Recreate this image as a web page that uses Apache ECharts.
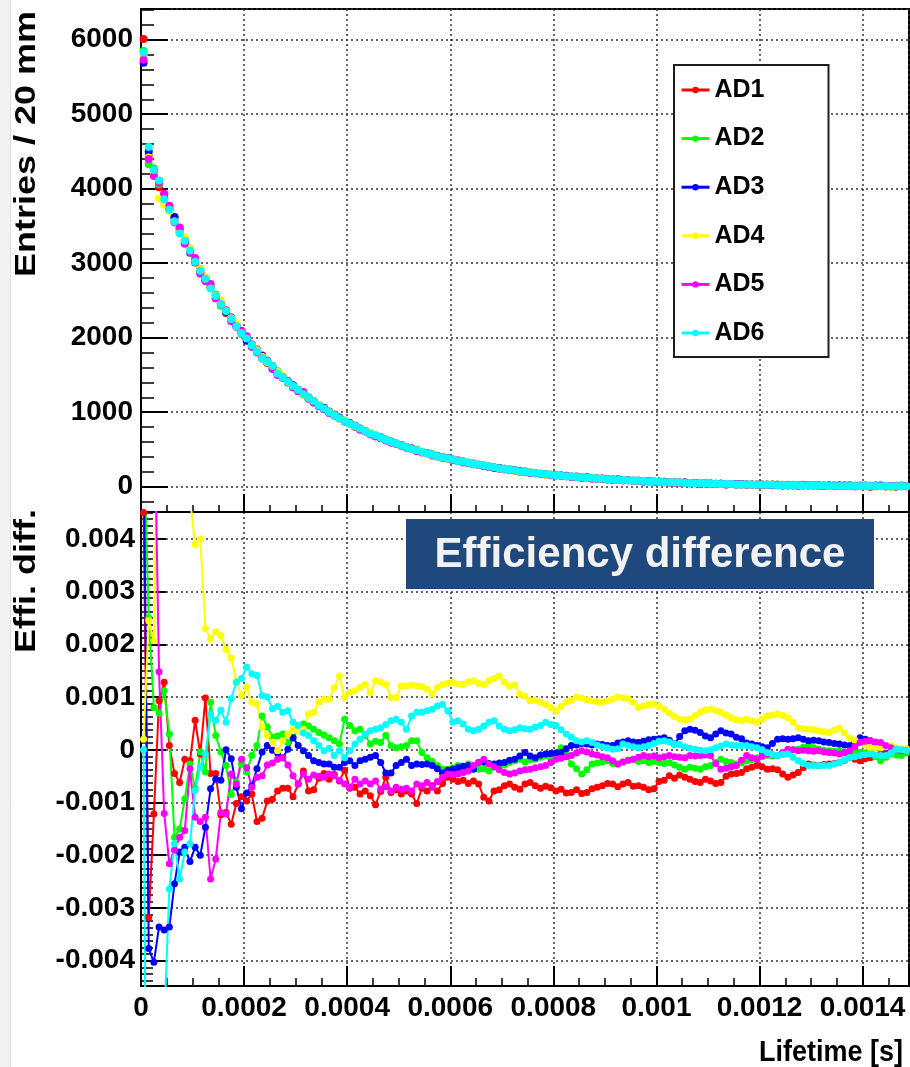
<!DOCTYPE html>
<html>
<head>
<meta charset="utf-8">
<title>AD lifetime spectra and efficiency difference</title>
<script src="https://cdn.jsdelivr.net/npm/echarts@6/dist/echarts.min.js"></script>
<style>
  html, body { margin: 0; padding: 0; background: #ffffff; }
  #chart { width: 910px; height: 1067px; }
</style>
</head>
<body>
<div id="chart"></div>
<script>
// ---- Detectors ----
const detectorNames  = ['AD1', 'AD2', 'AD3', 'AD4', 'AD5', 'AD6'];
const detectorColors = ['#ff0000', '#00ff00', '#0000ff', '#ffff00', '#ff00ff', '#00ffff'];

// ---- Lifetime binning (s) ----
const binWidth = 1e-5;
const nBins = 150;
const lifetimeBinCenters = Array.from({ length: nBins }, (_, i) => (i + 0.5) * binWidth);

// ---- Axis ticks ----
const lifetimeTicks = [0, 0.0002, 0.0004, 0.0006, 0.0008, 0.001, 0.0012, 0.0014];
const entriesTicks  = [0, 1000, 2000, 3000, 4000, 5000, 6000];
const effDiffTicks  = [-0.004, -0.003, -0.002, -0.001, 0, 0.001, 0.002, 0.003, 0.004];

// ---- Upper panel: entries per bin ----
const entriesAD1 = [
  6010, 4440, 4230, 4020, 3930, 3720, 3610, 3460, 3270, 3180,
  3010, 2880, 2800, 2690, 2530, 2460, 2330, 2250, 2150, 2070,
  1975, 1890, 1840, 1760, 1660, 1600, 1530, 1480, 1400, 1345,
  1300, 1240, 1180, 1150, 1090, 1040, 1010, 955, 920, 880,
  850, 805, 775, 750, 710, 680, 665, 625, 600, 575,
  560, 525, 515, 480, 470, 450, 425, 415, 390, 380,
  360, 350, 330, 315, 310, 290, 285, 265, 255, 250,
  235, 230, 215, 210, 195, 190, 185, 170, 165, 160,
  150, 150, 140, 130, 135, 120, 125, 110, 105, 110,
  95, 100, 90, 85, 90, 80, 75, 70, 75, 65,
  70, 60, 55, 60, 50, 55, 45, 50, 40, 45,
  40, 35, 40, 30, 35, 25, 35, 30, 25, 30,
  20, 25, 30, 20, 15, 25, 20, 10, 25, 15,
  20, 10, 15, 20, 5, 15, 10, 20, 5, 10,
  15, 0, 10, 15, 5, 10, 0, 15, 5, 10
];
const entriesAD2 = [
  5850, 4330, 4270, 4060, 3900, 3760, 3580, 3470, 3310, 3140,
  3050, 2900, 2760, 2670, 2580, 2430, 2370, 2240, 2180, 2050,
  1995, 1880, 1810, 1740, 1690, 1590, 1550, 1460, 1420, 1350,
  1290, 1250, 1190, 1130, 1100, 1050, 995, 970, 915, 890,
  840, 820, 770, 745, 720, 680, 650, 635, 600, 580,
  550, 535, 505, 495, 465, 445, 435, 405, 400, 375,
  365, 345, 340, 315, 300, 295, 275, 270, 255, 245,
  240, 225, 220, 205, 200, 190, 180, 175, 170, 155,
  155, 145, 145, 135, 125, 125, 115, 120, 105, 105,
  100, 95, 95, 85, 85, 80, 80, 70, 70, 70,
  60, 65, 60, 55, 55, 50, 50, 45, 45, 40,
  45, 40, 35, 40, 35, 30, 30, 35, 25, 30,
  25, 30, 20, 25, 25, 15, 25, 20, 15, 20,
  15, 20, 10, 15, 20, 10, 15, 5, 15, 10,
  10, 15, 5, 10, 10, 0, 15, 5, 10, 5
];
const entriesAD3 = [
  5690, 4500, 4240, 4100, 3880, 3730, 3620, 3420, 3290, 3170,
  3040, 2920, 2770, 2680, 2570, 2460, 2350, 2270, 2170, 2090,
  1960, 1910, 1820, 1750, 1670, 1620, 1530, 1470, 1410, 1360,
  1290, 1250, 1200, 1140, 1090, 1060, 1000, 960, 930, 880,
  850, 810, 780, 745, 715, 690, 655, 630, 605, 575,
  555, 530, 510, 490, 465, 450, 430, 410, 395, 380,
  360, 345, 335, 320, 305, 295, 280, 270, 255, 250,
  235, 225, 220, 210, 200, 190, 180, 175, 170, 160,
  155, 150, 140, 135, 130, 125, 120, 115, 110, 105,
  100, 95, 95, 90, 85, 80, 80, 75, 70, 70,
  65, 65, 60, 55, 55, 55, 50, 50, 45, 45,
  40, 40, 40, 35, 35, 35, 30, 30, 30, 25,
  30, 25, 25, 25, 20, 20, 20, 20, 15, 20,
  15, 20, 15, 15, 10, 15, 15, 10, 10, 10,
  10, 5, 15, 10, 5, 10, 10, 5, 10, 5
];
const entriesAD4 = [
  5800, 4420, 4200, 3870, 3790, 3700, 3560, 3420, 3350, 3200,
  3060, 2920, 2810, 2690, 2570, 2500, 2380, 2260, 2190, 2080,
  2010, 1900, 1830, 1740, 1670, 1610, 1540, 1490, 1410, 1340,
  1280, 1230, 1200, 1140, 1100, 1040, 1000, 960, 910, 890,
  845, 810, 775, 755, 720, 695, 660, 625, 600, 580,
  550, 530, 505, 485, 470, 440, 430, 410, 395, 375,
  360, 350, 335, 320, 305, 290, 285, 270, 260, 245,
  235, 225, 215, 205, 200, 195, 180, 175, 165, 160,
  150, 145, 140, 135, 130, 125, 120, 115, 110, 105,
  100, 95, 90, 90, 85, 80, 75, 75, 70, 70,
  65, 60, 60, 55, 55, 50, 50, 45, 45, 45,
  40, 40, 35, 35, 35, 30, 30, 30, 25, 30,
  25, 25, 25, 20, 25, 20, 20, 15, 20, 15,
  15, 15, 15, 10, 15, 10, 15, 10, 10, 10,
  10, 10, 5, 10, 10, 5, 10, 5, 5, 10
];
const entriesAD5 = [
  5730, 4400, 4170, 4080, 3930, 3770, 3550, 3480, 3260, 3140,
  3070, 2860, 2760, 2720, 2530, 2450, 2370, 2220, 2150, 2080,
  2020, 1880, 1800, 1720, 1690, 1580, 1500, 1470, 1420, 1330,
  1280, 1270, 1190, 1130, 1080, 1040, 990, 965, 920, 875,
  850, 815, 765, 745, 700, 675, 665, 620, 590, 580,
  550, 525, 510, 480, 460, 450, 420, 410, 395, 380,
  355, 350, 325, 320, 300, 290, 280, 265, 260, 240,
  240, 220, 220, 200, 205, 185, 185, 170, 170, 155,
  155, 145, 145, 130, 130, 120, 125, 110, 110, 100,
  100, 90, 95, 85, 85, 75, 80, 70, 75, 65,
  65, 60, 60, 50, 55, 50, 45, 50, 40, 45,
  40, 35, 40, 30, 35, 30, 35, 25, 30, 25,
  25, 25, 20, 25, 20, 20, 15, 20, 20, 15,
  15, 20, 10, 15, 15, 10, 15, 10, 5, 15,
  10, 10, 5, 15, 5, 10, 5, 10, 5, 5
];
const entriesAD6 = [
  5830, 4560, 4250, 4110, 3860, 3720, 3560, 3400, 3300, 3170,
  3020, 2900, 2790, 2660, 2560, 2450, 2360, 2250, 2150, 2060,
  1990, 1900, 1810, 1720, 1680, 1620, 1520, 1470, 1410, 1350,
  1300, 1240, 1190, 1150, 1090, 1050, 1000, 960, 920, 880,
  845, 815, 780, 745, 710, 690, 660, 630, 600, 580,
  555, 530, 510, 490, 465, 450, 430, 410, 395, 380,
  365, 345, 335, 320, 305, 295, 285, 270, 260, 245,
  240, 225, 220, 205, 200, 190, 185, 175, 170, 160,
  155, 150, 140, 135, 130, 125, 120, 115, 110, 105,
  100, 95, 90, 90, 85, 80, 80, 75, 70, 70,
  65, 60, 60, 55, 55, 50, 50, 45, 45, 45,
  40, 40, 35, 35, 35, 30, 30, 30, 30, 25,
  25, 25, 25, 20, 20, 20, 20, 20, 15, 15,
  15, 15, 15, 15, 10, 10, 10, 10, 10, 10,
  10, 10, 10, 5, 10, 5, 5, 10, 5, 5
];

// ---- Lower panel: efficiency difference, in units of 1e-4 ----
const EFF_UNIT = 1e-4;
const effDiffAD1 = [
  45, -31.8, -12.2, 9.3, 12.8, 0.8, -4.5, -6.2, -1.8, -2.1,
  5.6, -0.8, 9.8, -4.5, -4.5, -12.3, -11.9, -14.1, -10.2, -8.9,
  -9.7, -8.4, -13.6, -13.0, -9.7, -9.4, -7.8, -7.3, -7.3, -8.9,
  -6.5, -4.0, -7.8, -7.6, -5.4, -4.5, -5.6, -4.7, -5.9, -3.9,
  -7.3, -7.1, -8.4, -7.8, -8.7, -10.4, -7.9, -5.2, -8.1, -7.6,
  -8.4, -7.8, -8.4, -10.2, -7.3, -7.8, -6.8, -7.8, -6.4, -5.2,
  -5.6, -6.0, -5.8, -6.4, -5.9, -6.5, -9.0, -9.7, -7.8, -7.6,
  -6.8, -6.5, -7.1, -7.5, -6.5, -6.2, -6.8, -7.3, -6.9, -7.2,
  -7.8, -7.5, -8.2, -8.1, -7.6, -8.3, -8.1, -7.4, -7.1, -6.8,
  -6.4, -6.5, -7.0, -6.5, -6.2, -6.9, -6.8, -7.1, -7.6, -7.4,
  -6.0, -5.8, -4.9, -5.4, -4.8, -5.2, -5.6, -6.0, -6.2, -5.6,
  -5.9, -6.4, -6.2, -5.0, -4.6, -4.5, -4.3, -3.6, -3.3, -3.0,
  -3.2, -3.7, -3.6, -3.8, -4.6, -5.2, -4.8, -4.3, -3.4, -2.7,
  -2.9, -3.0, -2.8, -2.7, -2.6, -2.4, -2.0, -1.5, -1.8, -2.1,
  -1.7, -1.5, -1.1, -0.8, -0.6, -0.5, -0.5, -0.4, -0.2, 0
];
const effDiffAD2 = [
  60, 25, 8, 7.0, 11.2, 3.0, -16.6, -15.0, -9.3, -2.7,
  -7.4, -0.4, -4.2, 9.0, 2.7, -0.4, -3.0, -8.5, -6.1, -2.7,
  -4.2, -1.1, 0.8, 6.4, 4.3, 2.4, 2.6, 3.0, 1.4, 2.3,
  3.8, 4.9, 4.5, 3.9, 3.3, 2.8, 2.3, 1.7, 1.1, 5.8,
  4.6, 3.6, 3.9, 2.7, 1.1, 1.6, 1.4, 2.7, 0.8, 0.4,
  0.6, 0.8, 1.7, 1.7, -0.5, -1.5, -2.2, -3.0, -3.7, -3.7,
  -3.4, -3.0, -3.2, -2.7, -3.4, -3.7, -3.6, -4.0, -3.3, -2.7,
  -2.9, -2.4, -2.1, -1.8, -2.3, -1.9, -1.8, -1.4, -1.1, -1.5,
  -0.7, 0.4, -1.0, -2.7, -3.6, -4.6, -3.8, -2.7, -2.5, -2.3,
  -2.1, -2.6, -2.7, -2.3, -2.0, -1.8, -2.2, -2.1, -2.4, -2.2,
  -2.4, -2.6, -2.4, -2.9, -3.3, -3.7, -3.3, -3.5, -3.7, -3.2,
  -3.0, -2.4, -1.8, -2.2, -2.4, -2.7, -2.5, -2.1, -1.9, -1.5,
  -1.3, -1.1, -1.2, -1.1, -0.6, -0.2, 0.0, 0.1, 0.5, 0.8,
  0.4, 0.1, -0.1, -0.2, -0.3, -0.2, -0.5, -0.8, -0.6, -0.5,
  -0.6, -0.5, -1.3, -2.1, -1.4, -0.8, -1.0, -1.1, -0.6, -0.2
];
const effDiffAD3 = [
  60, -37.7, -40.3, -33.6, -34.2, -33.6, -25.4, -19.4, -18.5, -21.2,
  -18.5, -20.0, -14.7, -7.4, -5.6, -5.8, 0.0, -1.7, -7.1, -11.2,
  -8.2, -6.8, -3.6, -0.4, 0.8, -0.1, -0.6, -1.5, 0.1, 2.3,
  0.8, -0.2, -1.1, -2.1, -2.4, -2.7, -2.7, -3.3, -3.3, -2.4,
  -2.1, -3.0, -2.1, -1.8, -1.4, -1.1, -2.4, -4.4, -4.4, -3.0,
  -2.4, -1.8, -3.0, -2.7, -2.8, -2.7, -3.0, -3.6, -4.4, -3.9,
  -3.7, -3.4, -3.1, -3.0, -3.7, -2.4, -2.3, -2.6, -2.7, -2.5,
  -2.4, -2.0, -1.8, -1.2, -0.5, -1.2, -1.5, -1.0, -0.8, -0.7,
  -0.6, -0.5, 0.2, 0.8, 0.9, 1.2, 1.1, 0.9, 1.1, 1.0,
  0.8, 0.8, 1.3, 1.5, 1.7, 1.5, 1.4, 1.6, 1.9, 2.0,
  2.1, 2.3, 1.8, 1.1, 2.5, 3.6, 3.9, 3.7, 3.3, 2.6,
  2.3, 3.0, 3.6, 3.2, 3.0, 2.4, 2.1, 1.3, 1.1, 0.8,
  0.6, 0.4, 1.2, 2.0, 2.1, 2.0, 2.1, 2.3, 2.0, 1.7,
  1.8, 1.7, 1.5, 1.4, 1.2, 1.1, 0.9, 0.8, 1.6, 2.3,
  2.0, 1.7, 1.2, 0.8, 0.5, 0.4, 0.2, 0.1, -0.2, -0.1
];
const effDiffAD4 = [
  2.0, 24.5, 20.7, 80, 95, 90, 80, 75, 70, 48,
  38.9, 40.0, 23.0, 21.0, 22.4, 21.7, 19.0, 17.4, 13.0, 10.3,
  11.9, 9.0, 8.7, 4.3, 2.7, 1.5, -0.2, 1.7, 3.0, 3.9,
  3.6, 3.9, 6.8, 7.1, 9.0, 9.6, 9.6, 11.8, 14.0, 9.9,
  10.9, 11.2, 11.8, 12.4, 10.8, 13.1, 12.8, 12.4, 9.9, 9.9,
  12.1, 12.1, 12.3, 12.1, 12.0, 11.5, 10.6, 11.8, 12.4, 12.6,
  12.8, 12.5, 12.4, 12.9, 13.1, 12.6, 12.4, 13.1, 13.5, 14.0,
  12.8, 12.1, 12.3, 10.6, 10.2, 9.3, 9.4, 9.0, 8.6, 8.0,
  7.4, 8.2, 9.0, 9.4, 10.0, 9.8, 9.5, 9.3, 9.1, 9.0,
  9.3, 9.6, 10.0, 9.8, 9.7, 9.0, 8.0, 8.3, 8.6, 8.7,
  8.2, 7.7, 7.0, 6.3, 5.8, 5.7, 5.8, 6.5, 7.1, 7.6,
  7.7, 7.4, 7.1, 6.6, 6.1, 5.7, 5.5, 5.8, 5.5, 5.2,
  5.8, 6.4, 6.6, 6.8, 6.5, 6.1, 5.2, 4.2, 4.0, 3.9,
  3.8, 3.6, 3.4, 3.3, 3.7, 4.1, 3.2, 2.3, 1.8, 1.4,
  0.9, 0.4, 0.5, 0.4, 0.6, 0.8, 0.4, 0.1, 0.2, 0.1
];
const effDiffAD5 = [
  60, 80, 70, 14.8, -12.1, -21.6, -19.0, -16.6, -15.3, -3.6,
  -12.8, -13.6, -12.8, -24.5, -20.7, -11.9, -12.2, -4.6, -6.5, -1.8,
  -3.4, -7.1, -5.2, -4.9, -2.9, -2.5, -1.8, -1.5, -2.9, -4.9,
  -6.5, -4.6, -5.6, -4.8, -5.0, -5.2, -4.6, -4.9, -5.8, -6.5,
  -7.1, -5.6, -6.5, -5.9, -6.5, -5.9, -7.5, -7.0, -7.8, -7.1,
  -7.5, -7.3, -7.8, -6.5, -6.8, -6.2, -7.1, -6.0, -5.2, -4.6,
  -4.7, -4.6, -4.3, -4.0, -3.0, -2.4, -1.8, -2.7, -3.2, -3.8,
  -4.3, -4.6, -4.4, -4.0, -3.8, -3.7, -3.4, -3.2, -3.0, -2.4,
  -1.8, -1.6, -1.3, -1.1, -0.6, -0.2, -0.4, -0.8, -1.0, -1.3,
  -1.5, -2.1, -2.7, -2.3, -2.0, -1.8, -1.4, -1.1, -1.3, -1.2,
  -1.5, -1.3, -1.1, -1.3, -1.4, -1.5, -1.1, -1.2, -1.1, -1.0,
  -1.1, -2.6, -3.7, -3.5, -3.2, -3.0, -2.0, -1.1, -1.5, -1.8,
  -1.2, -0.8, -1.0, -1.1, -0.5, 0.1, 0.0, -0.2, -0.1, -0.2,
  -0.3, -0.2, -0.4, -0.5, -0.6, -0.8, -0.5, -0.2, 0.6, 1.4,
  1.6, 1.7, 1.5, 1.4, 0.8, 0.4, 0.1, -0.2, -0.2, -0.1
];
const effDiffAD6 = [
  0, -150, -110, -80, -52, -26.4, -17.8, -24.5, -19.4, -17.8,
  -7.7, -3.3, -0.8, 6.8, 5.6, 7.5, 5.2, 9.7, 12.8, 13.5,
  15.7, 14.4, 14.1, 10.3, 10.0, 7.8, 8.2, 7.1, 7.4, 5.2,
  4.6, 3.2, 2.7, 1.7, 0.8, -0.2, 0.3, -1.1, -0.2, -1.5,
  -0.2, 1.1, 2.0, 3.0, 3.6, 3.9, 4.2, 4.8, 5.5, 5.8,
  5.2, 3.9, 6.4, 7.1, 7.1, 7.4, 7.7, 8.3, 8.6, 7.4,
  5.2, 5.5, 4.9, 3.9, 3.6, 3.9, 4.5, 5.2, 5.5, 4.5,
  3.9, 3.6, 3.8, 4.2, 4.0, 3.9, 4.3, 4.6, 5.2, 4.8,
  4.6, 3.8, 3.0, 2.4, 1.7, 1.5, 1.7, 1.4, 0.9, 0.6,
  0.4, 0.1, 0.2, 1.1, 0.8, 0.6, 0.4, 0.6, 0.8, 1.2,
  1.6, 1.7, 1.5, 1.1, 1.0, 0.6, 0.3, 0.1, -0.1, -0.2,
  0.0, 0.4, 0.7, 1.1, 0.9, 0.8, 0.8, 0.8, 0.6, 0.4,
  0.0, -0.5, -0.9, -1.1, -0.9, -0.8, -1.4, -2.1, -2.6, -3.0,
  -3.0, -3.0, -3.0, -3.0, -2.7, -2.4, -1.9, -1.5, -1.3, -1.1,
  -0.9, -0.8, -1.0, -1.1, -1.1, -0.6, 0.1, 0.0, -0.2, -0.1
];

const entriesByDetector = [entriesAD1, entriesAD2, entriesAD3, entriesAD4, entriesAD5, entriesAD6];
const effDiffByDetector = [effDiffAD1, effDiffAD2, effDiffAD3, effDiffAD4, effDiffAD5, effDiffAD6];

// ---- Styling helpers ----
const FONT = '"Liberation Sans", Arial, Helvetica, sans-serif';
const tickFont = { fontFamily: FONT, fontWeight: 'bold', fontSize: 28, color: '#000' };
const dottedGrid = { show: true, lineStyle: { color: '#333333', width: 1.5, type: [2, 3] } };
const blackLine = { show: true, onZero: false, lineStyle: { color: '#000', width: 2 } };

function isTick(v, ticks) {
  return ticks.some(t => Math.abs(t - v) < 1e-9 * Math.max(1, Math.abs(t)) || Math.abs(t - v) < 1e-12);
}
function fmtLifetime(v) {
  if (!isTick(v, lifetimeTicks)) return '';
  return v === 0 ? '0' : String(parseFloat(v.toFixed(4)));
}
function fmtEntries(v) {
  return isTick(v, entriesTicks) ? String(Math.round(v)) : '';
}
function fmtEffDiff(v) {
  if (!isTick(v, effDiffTicks)) return '';
  const r = parseFloat(v.toFixed(3));
  return r === 0 ? '0' : String(r);
}

const xRange = { min: 0, max: 0.00149, interval: 0.0002 };

const series = [];
// lower panel: connected markers
detectorNames.forEach((name, k) => {
  series.push({
    type: 'line', name: name,
    xAxisIndex: 1, yAxisIndex: 1,
    data: effDiffByDetector[k].map((v, i) => [lifetimeBinCenters[i], v * EFF_UNIT]),
    symbol: 'circle', symbolSize: 7, showSymbol: true,
    lineStyle: { color: detectorColors[k], width: 2 },
    itemStyle: { color: detectorColors[k] },
    clip: true, silent: true, animation: false,
    emphasis: { disabled: true }
  });
});
// upper panel: markers only
detectorNames.forEach((name, k) => {
  series.push({
    type: 'scatter', name: name,
    xAxisIndex: 0, yAxisIndex: 0,
    data: entriesByDetector[k].map((v, i) => [lifetimeBinCenters[i], v]),
    symbol: 'circle', symbolSize: 8,
    itemStyle: { color: detectorColors[k], opacity: 1 },
    clip: true, silent: true, animation: false,
    emphasis: { disabled: true }
  });
});

const option = {
  backgroundColor: '#ffffff',
  animation: false,
  grid: [
    { left: 141, top: 9, width: 768, height: 503, show: true, borderColor: '#000', borderWidth: 2,
      backgroundColor: 'transparent', containLabel: false, outerBoundsMode: 'none' },
    { left: 141, top: 512, width: 768, height: 474, show: true, borderColor: '#000', borderWidth: 2,
      backgroundColor: 'transparent', containLabel: false, outerBoundsMode: 'none' }
  ],
  xAxis: [
    { type: 'value', gridIndex: 0, ...xRange,
      axisLine: blackLine,
      axisTick: { show: true, inside: true, length: 18, lineStyle: { color: '#000', width: 2 } },
      minorTick: { show: true, splitNumber: 4, length: 7, lineStyle: { color: '#000', width: 1.5 } },
      axisLabel: { show: false },
      splitLine: dottedGrid },
    { type: 'value', gridIndex: 1, ...xRange,
      axisLine: blackLine,
      axisTick: { show: true, inside: true, length: 20, lineStyle: { color: '#000', width: 2 } },
      minorTick: { show: true, splitNumber: 4, length: 8, lineStyle: { color: '#000', width: 1.5 } },
      axisLabel: { show: true, ...tickFont, margin: 8, formatter: fmtLifetime, hideOverlap: false,
                   showMinLabel: true, showMaxLabel: true },
      splitLine: dottedGrid }
  ],
  yAxis: [
    { type: 'value', gridIndex: 0, min: -340, max: 6413, splitNumber: 7,
      axisLine: blackLine,
      axisTick: { show: true, inside: true, length: 27, lineStyle: { color: '#000', width: 2 } },
      minorTick: { show: true, splitNumber: 5, length: 13, lineStyle: { color: '#000', width: 1.5 } },
      axisLabel: { show: true, ...tickFont, margin: 8, formatter: fmtEntries, hideOverlap: false },
      splitLine: dottedGrid },
    { type: 'value', gridIndex: 1, min: -0.00448, max: 0.00451, splitNumber: 9,
      axisLine: blackLine,
      axisTick: { show: true, inside: true, length: 25, lineStyle: { color: '#000', width: 2 } },
      minorTick: { show: true, splitNumber: 8, length: 12, lineStyle: { color: '#000', width: 1.5 } },
      axisLabel: { show: true, ...tickFont, margin: 6, formatter: fmtEffDiff, hideOverlap: false },
      splitLine: dottedGrid }
  ],
  legend: {
    data: detectorNames,
    orient: 'vertical',
    left: 674, top: 65,
    padding: [10, 64, 9, 6],
    itemGap: 18.6, itemWidth: 28, itemHeight: 8,
    backgroundColor: '#ffffff',
    borderColor: '#1e1e1e', borderWidth: 2, borderRadius: 0,
    selectedMode: false,
    lineStyle: { width: 3 },
    textStyle: { fontFamily: FONT, fontWeight: 'bold', fontSize: 25, color: '#000', lineHeight: 30 }
  },
  graphic: [
    { type: 'rect', silent: true, z: -10, shape: { x: 0, y: 0, width: 10, height: 1067 },
      style: { fill: '#f3f3f3' } },
    { type: 'line', silent: true, z: -10, shape: { x1: 10.5, y1: 0, x2: 10.5, y2: 1067 },
      style: { stroke: '#dddddd', lineWidth: 1 } },
    { type: 'text', silent: true, x: 27, y: 144, rotation: Math.PI / 2, scaleX: 1.2,
      style: { text: 'Entries / 20 mm', font: 'bold 30px ' + FONT, fill: '#000',
               align: 'center', verticalAlign: 'middle' } },
    { type: 'text', silent: true, x: 27, y: 581, rotation: Math.PI / 2, scaleX: 1.2,
      style: { text: 'Effi. diff.', font: 'bold 30px ' + FONT, fill: '#000',
               align: 'center', verticalAlign: 'middle' } },
    { type: 'text', silent: true, x: 903, y: 1053, scaleY: 1.12,
      style: { text: 'Lifetime [s]', font: 'bold 27px ' + FONT, fill: '#000',
               align: 'right', verticalAlign: 'middle' } },
    { type: 'rect', silent: true, z: 100, shape: { x: 406, y: 519, width: 468, height: 70 },
      style: { fill: '#1f497d' } },
    { type: 'text', silent: true, z: 101, x: 640, y: 555,
      style: { text: 'Efficiency difference', font: 'bold 42px ' + FONT, fill: '#f2f2f2',
               align: 'center', verticalAlign: 'middle' } }
  ],
  series: series
};

const chart = echarts.init(document.getElementById('chart'), null, { renderer: 'canvas' });
chart.setOption(option);
</script>
</body>
</html>
